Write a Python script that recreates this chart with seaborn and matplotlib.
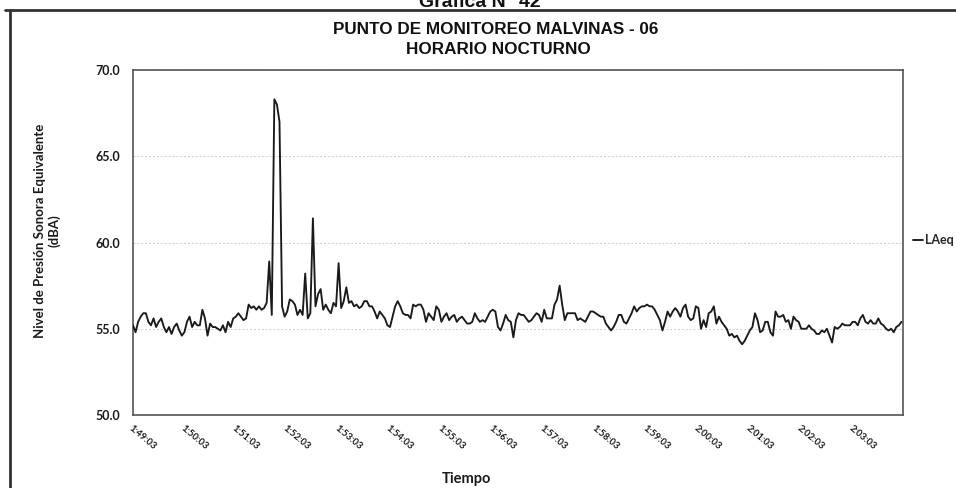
import numpy as np
import pandas as pd
import matplotlib
matplotlib.use("Agg")
import matplotlib.pyplot as plt
from matplotlib.lines import Line2D
import seaborn as sns

# LAeq (dBA), one reading every 3 s starting at 1:49:03
laeq_part1 = [
    55.2, 54.8, 55.4, 55.7, 55.9, 55.9, 55.4, 55.2, 55.6, 55.1,
    55.4, 55.6, 55.1, 54.8, 55.1, 54.7, 55.1, 55.3, 54.9, 54.6,
    54.8, 55.4, 55.7, 55.1, 55.4, 55.2, 55.2, 56.1, 55.6, 54.6,
    55.3, 55.1, 55.1, 55.0, 54.9, 55.2, 54.8, 55.4, 55.1, 55.6,
    55.7, 55.9, 55.7, 55.5, 55.6, 56.4, 56.2, 56.3, 56.1, 56.3,
    56.1, 56.2, 56.5, 58.9, 55.8, 68.3, 68.0, 67.0, 56.3, 55.7,
    56.0, 56.7, 56.6, 56.4, 55.8, 56.1, 55.8, 58.2, 55.6, 55.9,
    61.4, 56.3, 57.0, 57.3, 56.1, 56.4, 56.1, 55.9, 56.5, 56.3,
    58.8, 56.2, 56.6, 57.4, 56.5, 56.6, 56.3, 56.4, 56.2, 56.3,
    56.6, 56.6, 56.3, 56.3, 56.0, 55.6, 56.0, 55.8, 55.6, 55.2,
]
laeq_part2 = [
    55.1, 55.7, 56.3, 56.6, 56.3, 55.9, 55.8, 55.8, 55.6, 56.4,
    56.3, 56.4, 56.4, 56.1, 55.4, 55.9, 55.7, 55.5, 56.3, 56.1,
    55.4, 55.7, 55.9, 55.5, 55.7, 55.8, 55.4, 55.6, 55.7, 55.5,
    55.3, 55.3, 55.4, 55.9, 55.6, 55.4, 55.5, 55.4, 55.7, 56.0,
    56.1, 56.0, 55.1, 54.9, 55.3, 55.8, 55.5, 55.4, 54.5, 55.5,
    55.9, 55.8, 55.8, 55.6, 55.4, 55.5, 55.7, 55.9, 55.8, 55.4,
    56.1, 55.6, 55.6, 55.6, 56.4, 56.7, 57.5, 56.4, 55.5, 55.9,
    55.9, 55.9, 55.9, 55.5, 55.6, 55.5, 55.4, 55.7, 56.0, 56.0,
    55.9, 55.8, 55.7, 55.7, 55.3, 55.1, 54.9, 55.1, 55.4, 55.8,
    55.8, 55.4, 55.3, 55.6, 55.9, 56.3, 56.0, 56.2, 56.3, 56.3,
]
laeq_part3 = [
    56.4, 56.3, 56.3, 56.1, 55.8, 55.5, 54.9, 55.4, 56.0, 55.7,
    56.0, 56.2, 56.0, 55.7, 56.2, 56.4, 55.7, 55.5, 55.6, 56.3,
    56.2, 55.0, 55.5, 55.1, 55.9, 56.0, 56.3, 55.3, 55.7, 55.4,
    55.2, 55.0, 54.6, 54.7, 54.5, 54.6, 54.3, 54.1, 54.3, 54.6,
    54.9, 55.1, 55.9, 55.5, 54.8, 54.9, 55.4, 55.4, 54.8, 54.6,
    56.0, 55.7, 55.7, 55.8, 55.4, 55.5, 55.0, 55.7, 55.5, 55.4,
    55.0, 55.0, 55.0, 55.2, 55.0, 54.9, 54.7, 54.7, 54.9, 54.8,
    55.0, 54.6, 54.2, 55.1, 55.0, 55.1, 55.3, 55.2, 55.2, 55.2,
    55.4, 55.4, 55.2, 55.6, 55.8, 55.4, 55.3, 55.5, 55.3, 55.3,
    55.6, 55.3, 55.2, 55.0, 54.9, 55.0, 54.8, 55.1, 55.2, 55.4,
]
sample_step_s = 3

time_labels = ["1:49:03", "1:50:03", "1:51:03", "1:52:03", "1:53:03",
               "1:54:03", "1:55:03", "1:56:03", "1:57:03", "1:58:03",
               "1:59:03", "2:00:03", "2:01:03", "2:02:03", "2:03:03"]
y_ticks = [50.0, 55.0, 60.0, 65.0, 70.0]

laeq = laeq_part1 + laeq_part2 + laeq_part3
df = pd.DataFrame({
    "segundos": np.arange(len(laeq)) * sample_step_s,
    "LAeq": laeq,
})

sns.set_theme(style="white")
plt.rcParams["font.family"] = ["Lato", "DejaVu Sans"]

W, H = 956, 488
fig = plt.figure(figsize=(W / 100, H / 100), dpi=100)
fig.patch.set_facecolor("white")

left, right, top, bottom = 133, 903, 70, 415
ax = fig.add_axes([left / W, 1 - bottom / H, (right - left) / W, (bottom - top) / H])

sns.lineplot(data=df, x="segundos", y="LAeq", ax=ax, color="#1a1a1a",
             linewidth=1.35, label="LAeq", zorder=3)

ax.set_xlim(0, 898.8)
ax.set_ylim(50, 70)
ax.set_yticks(y_ticks)
ax.set_yticklabels([f"{v:.1f}" for v in y_ticks], fontweight="bold", fontsize=9,
                   color="#1a1a1a")
ax.set_xticks(np.arange(len(time_labels)) * 60)
ax.set_xticklabels(time_labels, rotation=-40, ha="left", va="top",
                   rotation_mode="anchor", fontsize=6.8, fontweight="bold",
                   color="#1a1a1a")
ax.yaxis.grid(True, linestyle=(0, (2, 2)), color="#cccccc", linewidth=0.7, zorder=0)
ax.xaxis.grid(False)
for s in ax.spines.values():
    s.set_color("#555555")
    s.set_linewidth(1.2)
ax.tick_params(axis="both", direction="out", length=3, width=0.8, color="#555555")
ax.tick_params(axis="x", pad=3)
ax.tick_params(axis="y", pad=6)
ax.set_xlabel("")
ax.set_ylabel("")

ax.legend(loc="center left", bbox_to_anchor=(913 / W, 1 - 240 / H),
          bbox_transform=fig.transFigure, frameon=False, handlelength=0.8,
          handletextpad=0.2, borderpad=0, borderaxespad=0,
          prop={"weight": "bold", "size": 9})

fig.text(47 / W, 1 - 231 / H, "Nivel de Presión Sonora Equivalente\n(dBA)",
         rotation=90, ha="center", va="center", multialignment="center",
         fontsize=9.5, fontweight="bold", color="#1a1a1a")
fig.text(466 / W, 1 - 486 / H, "Tiempo", ha="center", va="bottom",
         fontsize=10.5, fontweight="bold", color="#1a1a1a")

fig.text(496 / W, 1 - 30 / H, "PUNTO DE MONITOREO MALVINAS - 06",
         ha="center", va="center", family=["Liberation Sans", "DejaVu Sans"],
         fontsize=12.3, fontweight="bold", color="#111111")
fig.text(498 / W, 1 - 49 / H, "HORARIO NOCTURNO",
         ha="center", va="center", family=["Liberation Sans", "DejaVu Sans"],
         fontsize=12.3, fontweight="bold", color="#111111")
fig.text(480 / W, 1 - 7 / H, "Gráfica N° 42", ha="center", va="baseline",
         family=["Liberation Sans", "DejaVu Sans"], fontsize=14,
         fontweight="bold", color="#111111")

# outer frame of the chart
fig.add_artist(Line2D([10 / W, 10 / W], [0, 1 - 10 / H], transform=fig.transFigure,
                      color="#333333", linewidth=2))
fig.add_artist(Line2D([5 / W, 1], [1 - 10 / H, 1 - 10 / H], transform=fig.transFigure,
                      color="#333333", linewidth=2))

fig.savefig("out.png", dpi=100)
